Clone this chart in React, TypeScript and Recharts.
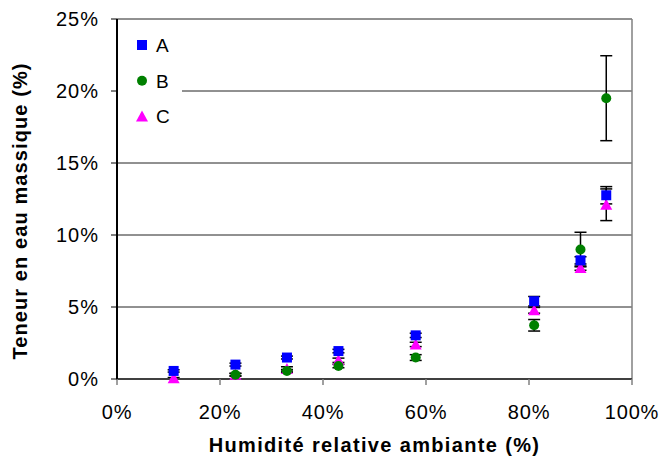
import React from 'react';
import {
  ScatterChart,
  Scatter,
  XAxis,
  YAxis,
  CartesianGrid,
  ErrorBar,
  ReferenceLine
} from 'recharts';

document.body.style.margin = '0';

const FONT = 'Arial, "Liberation Sans", sans-serif';

// relative humidity (%)
const humidity = [11, 23, 33, 43, 58, 81, 90, 95];

// water content (%) and error for each sample
const seriesA = [0.56, 1.0, 1.49, 1.94, 3.03, 5.4, 8.24, 12.76];
const errorA = [0.08, 0.1, 0.1, 0.12, 0.15, 0.33, 0.25, 0.6];

const seriesB = [null, 0.3, 0.56, 0.9, 1.49, 3.73, 8.99, 19.5];
const errorB = [null, 0.08, 0.1, 0.12, 0.2, 0.4, 1.2, 2.95];

const seriesC = [0.05, 0.3, 0.7, 1.3, 2.4, 4.77, 7.7, 12.1];
const errorC = [0.05, 0.1, 0.15, 0.15, 0.15, 0.2, 0.15, 1.1];

const xTicks = [0, 20, 40, 60, 80, 100];
const yTicks = [0, 5, 10, 15, 20, 25];

const legendItems = ['A', 'B', 'C'];

const toPoints = (values: (number | null)[], errors: (number | null)[]) =>
  humidity
    .map((x, i) => ({ x, y: values[i], err: errors[i] }))
    .filter((p) => p.y !== null);

const dataA = toPoints(seriesA, errorA);
const dataB = toPoints(seriesB, errorB);
const dataC = toPoints(seriesC, errorC);

const SquareDot = (p: any) => (
  <rect x={p.cx - 5} y={p.cy - 5} width={10} height={10} fill="#0000FF" />
);
const CircleDot = (p: any) => <circle cx={p.cx} cy={p.cy} r={5} fill="#008000" />;
const TriangleDot = (p: any) => (
  <polygon
    points={`${p.cx},${p.cy - 6} ${p.cx + 6},${p.cy + 5} ${p.cx - 6},${p.cy + 5}`}
    fill="#FF00FF"
  />
);

const legendIcon = (name: string, cx: number, cy: number) => {
  if (name === 'A') return <SquareDot cx={cx} cy={cy} />;
  if (name === 'B') return <CircleDot cx={cx} cy={cy} />;
  return <TriangleDot cx={cx} cy={cy} />;
};

const titleStyle = { fontSize: 20, fontWeight: 'bold' as const, fill: '#000', fontFamily: FONT };

const XTitle = (props: any) => {
  const { x, width } = props.viewBox;
  return (
    <text x={x + width / 2} y={452} textAnchor="middle" letterSpacing={1.35} style={titleStyle}>
      Humidité relative ambiante (%)
    </text>
  );
};

const YTitle = () => (
  <text
    transform="translate(27,211) rotate(-90)"
    textAnchor="middle"
    letterSpacing={1.1}
    style={titleStyle}
  >
    Teneur en eau massique (%)
  </text>
);

const App = () => {
  return (
    <div style={{ position: 'relative', width: 661, height: 459, fontFamily: FONT }}>
      <ScatterChart width={661} height={459} margin={{ top: 19, right: 29, bottom: 0, left: 0 }}>
        <CartesianGrid vertical={false} stroke="#222" />
        <XAxis
          type="number"
          dataKey="x"
          domain={[0, 100]}
          ticks={xTicks}
          tickFormatter={(v) => `${v}%`}
          height={80}
          stroke="#404040"
          strokeWidth={2}
          tickSize={6}
          tickMargin={20}
          tick={{ fontSize: 20, fill: '#000', fontFamily: FONT, letterSpacing: 0.8 }}
          tickLine={{ stroke: '#808080', strokeWidth: 1.5 }}
          label={<XTitle />}
        />
        <YAxis
          type="number"
          dataKey="y"
          domain={[0, 25]}
          ticks={yTicks}
          tickFormatter={(v) => `${v}%`}
          width={117}
          stroke="#000"
          strokeWidth={2}
          tickSize={6}
          tickMargin={12}
          tick={{ fontSize: 20, fill: '#000', fontFamily: FONT, letterSpacing: 1 }}
          tickLine={{ stroke: '#000', strokeWidth: 1 }}
          label={<YTitle />}
        />
        <ReferenceLine x={100} stroke="#808080" strokeWidth={1.5} />
        <Scatter name="C" data={dataC} shape={TriangleDot} isAnimationActive={false}>
          <ErrorBar dataKey="err" direction="y" width={6} stroke="#000" strokeWidth={1.5} />
        </Scatter>
        <Scatter name="A" data={dataA} shape={SquareDot} isAnimationActive={false}>
          <ErrorBar dataKey="err" direction="y" width={6} stroke="#000" strokeWidth={1.5} />
        </Scatter>
        <Scatter name="B" data={dataB} shape={CircleDot} isAnimationActive={false}>
          <ErrorBar dataKey="err" direction="y" width={6} stroke="#000" strokeWidth={1.5} />
        </Scatter>
      </ScatterChart>
      <svg
        width={64}
        height={114}
        style={{ position: 'absolute', left: 118, top: 21 }}
      >
        <rect x={0} y={0} width={64} height={114} fill="#fff" />
        {legendItems.map((name, i) => {
          const cy = 24 + i * 35.7;
          return (
            <g key={name}>
              {legendIcon(name, 24, cy)}
              <text x={38} y={cy} dy="0.36em" fontSize={19} fill="#000" fontFamily={FONT}>
                {name}
              </text>
            </g>
          );
        })}
      </svg>
    </div>
  );
};

export default App;
